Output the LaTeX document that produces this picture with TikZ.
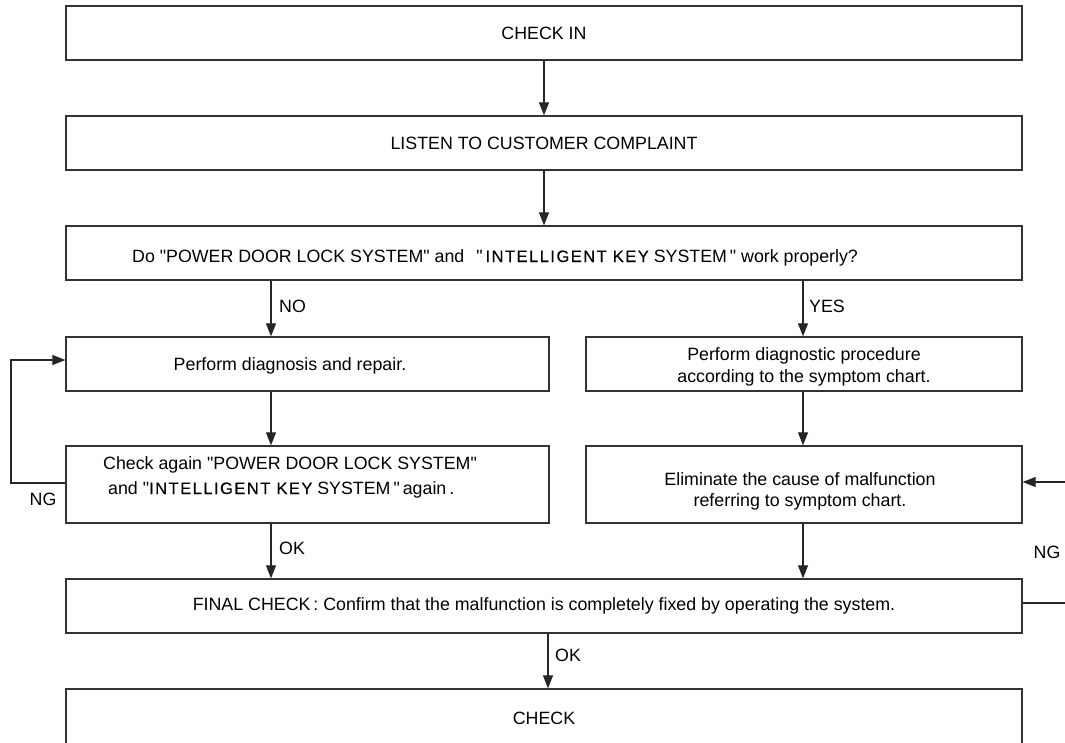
\documentclass[tikz,border=0pt]{standalone}
\usepackage{fontspec}
\newfontfamily\basefont{Liberation Sans}
\newfontfamily\ikfont[LetterSpace=9,FakeBold=0.3]{Liberation Sans}
\newcommand{\ik}[1]{{\ikfont\fontsize{16.5}{21}\selectfont #1}}
\usetikzlibrary{arrows.meta}
\begin{document}
\begin{tikzpicture}[x=1pt,y=-1pt,
  every node/.style={font=\basefont\fontsize{17.8}{22}\selectfont},
  box/.style={draw=black!80,line width=1.3pt,inner sep=0pt,minimum height=54pt},
  wide/.style={box,minimum width=956pt},
  half/.style={box,minimum width=#1},
  txt/.style={inner sep=0pt},
  arr/.style={draw=black!85,line width=1.1pt,-{Triangle[length=13pt,width=10pt]}},
  ln/.style={draw=black!85,line width=1.1pt}]
\clip (0,0) rectangle (1065,742);
\fill[white] (0,0) rectangle (1065,742);
% boxes
\node[wide] (b1) at (544,33) {CHECK IN};
\node[wide] (b2) at (544,143) {LISTEN TO CUSTOMER COMPLAINT};
\node[wide] (b3) at (544,253) {};
\node[half=483pt] (b4l) at (307.5,364) {};
\node[half=436pt] (b4r) at (804,364) {};
\node[half=483pt,minimum height=77pt] (b5l) at (307.5,484.5) {};
\node[half=436pt,minimum height=77pt] (b5r) at (804,484.5) {};
\node[wide] (b6) at (544,606) {FINAL CHECK\,: Confirm that the malfunction is completely fixed by operating the system.};
\node[wide,minimum height=58pt] (b7) at (544,718) {CHECK};
% texts
\node[txt,anchor=base west] (t3) at (132,262) {Do "POWER DOOR LOCK SYSTEM" and \hspace{7pt}"\,\ik{INTELLIGENT KEY} SYSTEM\," work properly?};
\node[txt,anchor=base] (t4l) at (290,370) {Perform diagnosis and repair.};
\node[txt,anchor=base] (t4a) at (804,360) {Perform diagnostic procedure};
\node[txt,anchor=base] (t4b) at (804,382) {according to the symptom chart.};
\node[txt,anchor=base west] (t5a) at (103,469) {Check again "POWER DOOR LOCK SYSTEM"};
\node[txt,anchor=base west] (t5b) at (108,494) {and "\ik{INTELLIGENT KEY} SYSTEM\,"\,again\,.};
\node[txt,anchor=base] (t5c) at (800,485) {Eliminate the cause of malfunction};
\node[txt,anchor=base] (t5d) at (800,506) {referring to symptom chart.};
% guide coordinates
\coordinate (xL) at (271,0);
\coordinate (xR) at (803,0);
\coordinate (xM) at (548,0);
\coordinate (loopT) at (11,360);
\coordinate (loopB) at (11,483);
\coordinate (rIn) at (1070,482);
\coordinate (rOut) at (1070,603);
% connectors
\draw[arr] (b1.south) -- (b2.north);
\draw[arr] (b2.south) -- (b3.north);
\draw[arr] (b3.south -| xL) -- (b4l.north -| xL);
\draw[arr] (b3.south -| xR) -- (b4r.north -| xR);
\draw[arr] (b4l.south -| xL) -- (b5l.north -| xL);
\draw[arr] (b4r.south -| xR) -- (b5r.north -| xR);
\draw[arr] (b5l.south -| xL) -- (b6.north -| xL);
\draw[arr] (b5r.south -| xR) -- (b6.north -| xR);
\draw[arr] (b6.south -| xM) -- (b7.north -| xM);
\draw[arr] (b5l.west |- loopB) -- (loopB) -- (loopT) -- (b4l.west |- loopT);
\draw[ln] (b6.east |- rOut) -- (rOut);
\draw[arr] (rIn) -- (b5r.east |- rIn);
% labels
\node[txt,anchor=west] (lNO) at (279,306) {NO};
\node[txt,anchor=west] (lYES) at (809,306) {YES};
\node[txt,anchor=west] (lOK1) at (279,548) {OK};
\node[txt,anchor=west] (lOK2) at (555,655) {OK};
\node[txt] (lNG1) at (43,499) {NG};
\node[txt] (lNG2) at (1047,552) {NG};
\end{tikzpicture}
\end{document}
